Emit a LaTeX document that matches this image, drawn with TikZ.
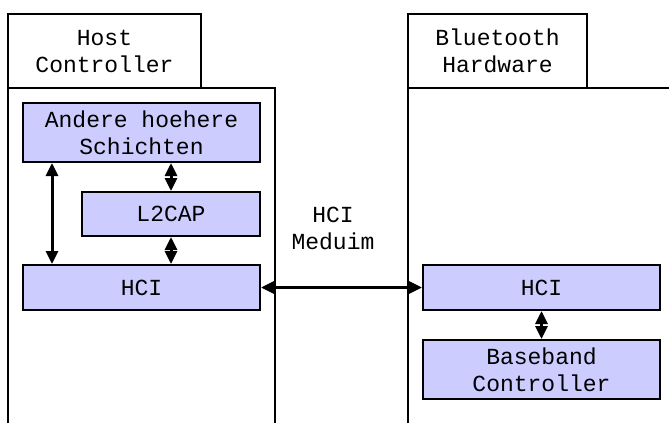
\documentclass[tikz,border=0pt]{standalone}
\usepackage{fontspec}
\setmonofont{Liberation Mono}
\usetikzlibrary{arrows.meta}
\definecolor{layerfill}{RGB}{204,204,255}

\begin{document}
\begin{tikzpicture}[x=0.5pt,y=-0.5pt,
every node/.style={font=\fontsize{11.5}{13.5}\selectfont\ttfamily, align=center},
layer/.style={draw, line width=1pt, fill=layerfill, inner sep=0pt, minimum width=118.5pt},
tab/.style={draw, line width=1pt, inner sep=0pt, minimum height=37pt},
biarrow/.style={line width=1.5pt, {Triangle[length=6.5pt,width=6pt]}-{Triangle[length=6.5pt,width=6pt]}}]
\useasboundingbox (0,0) rectangle (669,423);

% the two sides
\draw[line width=1pt] (8,423) -- (8,88) -- (275,88) -- (275,423);
\draw[line width=1pt] (408,423) -- (408,88) -- (669,88);
\node[tab, minimum width=96.5pt](host) at (104.5,51) {Host\\Controller};
\node[tab, minimum width=89.5pt](bt) at (497.5,51) {Bluetooth\\Hardware};

% host stack
\node[layer, minimum height=29.5pt](andere) at (141.5,132.5) {Andere hoehere\\Schichten};
\node[layer, minimum width=89pt, minimum height=22pt](l2cap) at (171,214) {L2CAP};
\node[layer, minimum height=22.5pt](hcil) at (141.5,287.5) {HCI};

% bluetooth stack
\node[layer, minimum height=22.5pt](hcir) at (541.5,287.5) {HCI};
\node[layer, minimum height=29.5pt](base) at (541.5,369.5) {Baseband\\Controller};

\node(medium) at (333,228) {HCI\\Meduim};

% connections
\draw[biarrow] ([xshift=15pt]andere.south west) -- ([xshift=15pt]hcil.north west);
\draw[biarrow] (andere.south -| l2cap) -- (l2cap.north);
\draw[biarrow] (l2cap.south) -- (hcil.north -| l2cap);
\draw[biarrow] (hcil.east) -- (hcir.west);
\draw[biarrow] (hcir.south) -- (base.north);
\end{tikzpicture}
\end{document}
